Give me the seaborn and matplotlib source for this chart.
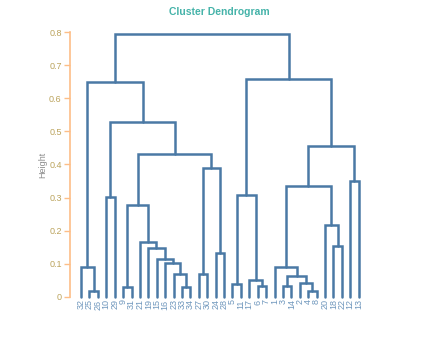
import matplotlib
matplotlib.use("Agg")
import matplotlib.pyplot as plt
import seaborn as sns
import pandas as pd

# Leaf labels, left to right, as they sit under the dendrogram
leaf_labels = ["32", "25", "26", "10", "29", "9", "31", "21", "19", "15", "16", "23",
               "33", "34", "27", "30", "24", "28", "5", "11", "17", "6", "7", "1",
               "3", "14", "2", "4", "8", "20", "18", "22", "12", "13"]

# Merges: each one joins merge_a[i] and merge_b[i] at merge_height[i] -> new node "c<i+1>"
merge_a = ["25", "32", "10", "9", "33", "23", "16", "15", "19", "21", "c4", "27", "24",
           "c12", "c11", "c3", "c2", "5", "6", "17", "c18", "3", "4", "2", "c22", "1",
           "18", "20", "c26", "12", "c29", "c21", "c17"]
merge_b = ["26", "c1", "29", "31", "34", "c5", "c6", "c7", "c8", "c9", "c10", "30", "28",
           "c13", "c14", "c15", "c16", "11", "7", "c19", "c20", "14", "8", "c23", "c24", "c25",
           "22", "c27", "c28", "13", "c30", "c31", "c32"]
merge_height = [0.016, 0.089, 0.301, 0.028, 0.028, 0.070, 0.102, 0.115, 0.148, 0.166,
                0.277, 0.070, 0.132, 0.388, 0.432, 0.529, 0.649, 0.037, 0.033, 0.052,
                0.307, 0.031, 0.016, 0.041, 0.062, 0.089, 0.152, 0.216, 0.334, 0.349,
                0.455, 0.660, 0.794]

# Colours
line_col = "#4a79a5"
leaf_col = "#6f97bd"
spine_col = "#fdbe87"
tick_lab_col = "#bba35c"
title_col = "#45b3a9"

sns.set_style("white")
plt.rcParams["font.family"] = ["Liberation Sans", "DejaVu Sans"]

# position and height of every node
pos = {lab: float(i) for i, lab in enumerate(leaf_labels)}
hgt = {lab: 0.0 for lab in leaf_labels}
rows = []
for i, (a, b, h) in enumerate(zip(merge_a, merge_b, merge_height)):
    name = "c%d" % (i + 1)
    for x, y in [(pos[a], hgt[a]), (pos[a], h), (pos[b], h), (pos[b], hgt[b])]:
        rows.append({"x": x, "y": y, "seg": name})
    pos[name] = (pos[a] + pos[b]) / 2
    hgt[name] = h
segs = pd.DataFrame(rows)

fig = plt.figure(figsize=(4.4, 3.4), dpi=100)
ax = fig.add_axes([70 / 440, 43.3 / 340, 299.7 / 440, 264.4 / 340])

sns.lineplot(data=segs, x="x", y="y", units="seg", estimator=None, sort=False,
             color=line_col, linewidth=1.8, ax=ax, legend=False)
for l in ax.lines:
    l.set_clip_on(False)
    l.set_solid_joinstyle("miter")

ax.set_xlim(-1.31, len(leaf_labels) - 1 + 1.31)
ax.set_ylim(0, 0.8)
ax.set_xticks(range(len(leaf_labels)))
ax.set_xticklabels(leaf_labels, rotation=90, fontsize=6.5, color=leaf_col)
ax.set_yticks([0, 0.1, 0.2, 0.3, 0.4, 0.5, 0.6, 0.7, 0.8])
ax.set_yticklabels(["0", "0.1", "0.2", "0.3", "0.4", "0.5", "0.6", "0.7", "0.8"],
                   fontsize=6.5, color=tick_lab_col)
ax.tick_params(axis="x", length=0, pad=2)
ax.tick_params(axis="y", length=4, width=1, color=spine_col, pad=2, left=True)
sns.despine(ax=ax, bottom=True)
ax.spines["left"].set_color(spine_col)
ax.spines["left"].set_linewidth(1.2)
ax.set_xlabel("")
ax.set_ylabel("Height", fontsize=6.5, color="#8c8c8c", labelpad=1.5)

fig.text(219.5 / 440, 1 - 12 / 340, "Cluster Dendrogram", ha="center", va="center",
         fontsize=7.5, fontweight="bold", color=title_col)

fig.savefig("out.png", dpi=100)
